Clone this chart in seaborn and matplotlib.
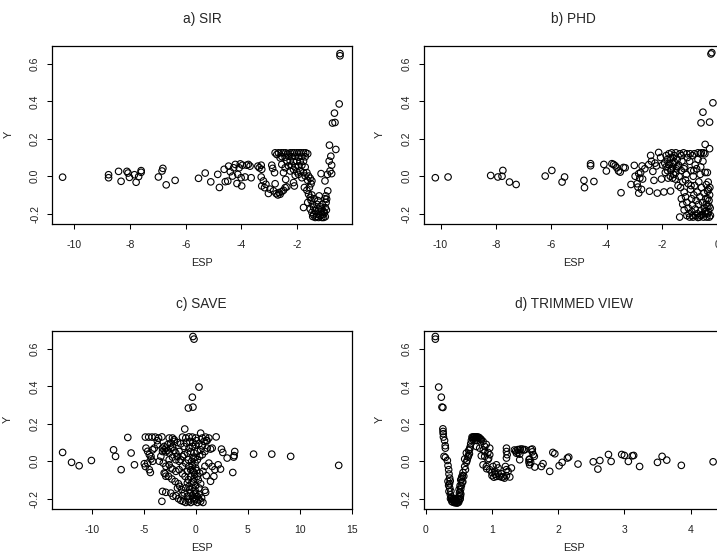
import matplotlib
matplotlib.use("Agg")
import matplotlib.pyplot as plt
import seaborn as sns

# (ESP, Y) pairs
sir_pts = [
    (-10.42, -0.005), (-8.77, 0.008), (-8.77, -0.008), (-8.41, 0.026), (-8.32, -0.027),
    (-8.11, 0.026), (-8.07, 0.017), (-8.02, -0.006), (-7.84, 0.008), (-7.78, -0.032),
    (-7.69, -0.002), (-7.60, 0.030), (-7.60, 0.021), (-6.98, -0.004), (-6.85, 0.028),
    (-6.82, 0.042), (-6.70, -0.046), (-6.38, -0.022), (-5.54, -0.011), (-5.30, 0.017),
    (-5.10, -0.030), (-4.85, 0.010), (-4.79, -0.060), (-4.62, 0.037), (-4.58, -0.029),
    (-4.46, 0.054), (-4.49, -0.026), (-4.40, 0.024), (-4.32, 0.001), (-4.28, 0.045),
    (-4.22, 0.063), (-4.16, -0.039), (-4.13, 0.010), (-4.08, 0.045), (-4.04, 0.066),
    (-4.01, -0.008), (-3.99, -0.052), (-3.96, 0.059), (-3.87, -0.004), (-3.81, 0.059),
    (-3.75, 0.063), (-3.69, 0.054), (-3.65, -0.008), (-3.41, 0.054), (-3.36, 0.045),
    (-3.29, 0.059), (-3.27, 0.037), (-3.29, -0.004), (-3.21, -0.025), (-3.27, -0.052),
    (-3.17, -0.061), (-3.12, -0.043), (-3.03, -0.092), (-2.97, -0.069), (-2.91, 0.059),
    (-2.88, 0.042), (-2.81, 0.019), (-2.85, -0.078), (-2.79, -0.040), (-2.75, -0.093),
    (-2.69, -0.100), (-2.65, -0.087), (-2.61, -0.096), (-2.55, -0.082), (-2.49, -0.075),
    (-2.43, -0.061), (-2.37, -0.057), (-2.41, -0.017), (-2.49, 0.019), (-2.43, 0.045),
    (-2.55, 0.063), (-2.61, 0.098), (-2.73, 0.116),
    (-2.79, 0.125), (-2.67, 0.125), (-2.57, 0.125), (-2.49, 0.125), (-2.41, 0.125),
    (-2.33, 0.120), (-2.25, 0.125), (-2.17, 0.125), (-2.10, 0.125), (-2.01, 0.125),
    (-1.93, 0.125), (-1.86, 0.125), (-1.77, 0.125), (-1.69, 0.125), (-1.62, 0.120),
    (-2.55, 0.105), (-2.43, 0.102), (-2.31, 0.107), (-2.19, 0.104), (-2.07, 0.107),
    (-1.95, 0.102), (-1.83, 0.106), (-1.71, 0.104), (-2.37, 0.081), (-2.25, 0.082),
    (-2.13, 0.078), (-2.01, 0.081), (-1.89, 0.078), (-1.77, 0.081), (-2.31, 0.055),
    (-2.19, 0.059), (-2.07, 0.049), (-1.95, 0.055), (-1.83, 0.059), (-1.71, 0.049),
    (-2.25, 0.028), (-2.13, 0.036), (-2.01, 0.024), (-1.89, 0.031), (-1.77, 0.019),
    (-2.07, 0.005), (-1.95, 0.010), (-1.83, -0.008), (-1.71, 0.001), (-2.13, -0.034),
    (-2.10, -0.052), (-1.65, 0.019), (-1.59, 0.001), (-1.53, -0.011), (-1.47, -0.025),
    (-1.62, -0.022), (-1.74, -0.060), (-1.65, -0.075), (-1.59, -0.096), (-1.53, -0.113),
    (-1.47, -0.100), (-1.50, -0.128), (-1.45, -0.149), (-1.77, -0.167), (-1.53, -0.175),
    (-1.47, -0.193), (-1.41, -0.206), (-1.35, -0.184), (-1.29, -0.202), (-1.23, -0.220),
    (-1.35, -0.220), (-1.17, -0.211), (-1.11, -0.220), (-1.05, -0.220), (-0.99, -0.216),
    (-1.23, -0.175), (-1.17, -0.163), (-1.11, -0.175), (-1.05, -0.188), (-0.99, -0.167),
    (-0.96, -0.140), (-0.94, -0.122), (-0.97, -0.105), (-0.90, -0.078), (-1.21, -0.105),
    (-1.41, -0.165), (-1.29, -0.150), (-1.17, -0.190), (-1.08, -0.205), (-1.02, -0.195),
    (-1.30, -0.215), (-1.44, -0.215), (-1.25, -0.130), (-1.38, -0.120), (-1.10, -0.150),
    (-1.00, -0.120), (-0.95, -0.180), (-1.62, -0.140), (-1.56, -0.060), (-1.50, -0.040),
    (-1.14, 0.014), (-1.00, -0.025), (-0.91, 0.010), (-0.82, 0.028), (-0.76, 0.014),
    (-0.76, 0.059), (-0.85, 0.081), (-0.79, 0.107), (-0.84, 0.166), (-0.61, 0.143),
    (-0.73, 0.284), (-0.64, 0.287), (-0.66, 0.337), (-0.49, 0.386), (-0.46, 0.655),
    (-0.46, 0.643),
]

phd_pts = [
    (-10.19, -0.008), (-9.73, -0.004), (-8.19, 0.004), (-7.93, -0.004), (-7.78, 0.000),
    (-7.75, 0.031), (-7.51, -0.031), (-7.27, -0.044), (-6.22, 0.001), (-5.98, 0.031),
    (-5.61, -0.031), (-5.52, -0.004), (-4.82, -0.022), (-4.80, -0.061), (-4.58, 0.067),
    (-4.58, 0.056), (-4.46, -0.028), (-4.10, 0.063), (-4.01, 0.028), (-3.81, 0.067),
    (-3.75, 0.063), (-3.69, 0.056), (-3.63, 0.045), (-3.57, 0.028), (-3.51, 0.022),
    (-3.39, 0.047), (-3.33, 0.045), (-3.48, -0.088), (-3.12, -0.044), (-3.00, 0.058),
    (-2.97, 0.000), (-2.90, -0.040), (-2.87, -0.058), (-2.84, -0.090), (-2.84, 0.014),
    (-2.80, -0.010), (-2.77, 0.020), (-2.74, -0.070), (-2.72, 0.055), (-2.70, -0.015),
    (-2.62, 0.040), (-2.48, 0.062), (-2.45, -0.080), (-2.41, 0.111), (-2.38, 0.080),
    (-2.33, 0.026), (-2.29, -0.022), (-2.25, 0.070), (-2.20, 0.055), (-2.17, -0.090),
    (-2.12, 0.127), (-2.05, 0.100), (-2.02, -0.015), (-1.98, 0.060), (-1.93, -0.084),
    (-1.88, 0.020), (-1.85, 0.110), (-1.80, 0.090), (-1.78, -0.010), (-1.75, 0.120),
    (-1.72, 0.070), (-1.69, -0.079), (-1.68, 0.030), (-1.65, 0.125), (-1.62, 0.050),
    (-1.60, 0.100), (-1.58, 0.010), (-1.55, 0.075), (-1.52, -0.015), (-1.50, 0.125),
    (-1.48, 0.040), (-1.45, 0.090), (-1.42, -0.050), (-1.40, 0.060), (-1.38, 0.000),
    (-1.36, -0.218), (-1.35, 0.120), (-1.33, -0.060), (-1.30, 0.030), (-1.28, 0.080),
    (-1.25, -0.030), (-1.22, 0.125), (-1.20, -0.085), (-1.18, 0.050), (-1.15, -0.110),
    (-1.12, 0.010), (-1.10, -0.140), (-1.08, 0.100), (-1.05, -0.170), (-1.05, -0.040),
    (-1.02, -0.200), (-1.00, -0.218), (-0.98, 0.120), (-0.97, -0.070), (-0.95, 0.030),
    (-0.93, -0.120), (-0.92, -0.190), (-0.90, -0.155), (-0.88, -0.218), (-0.87, 0.000),
    (-0.85, -0.100), (-0.83, 0.120), (-0.82, -0.050), (-0.80, -0.175), (-0.78, -0.210),
    (-0.77, -0.130), (-0.75, 0.040), (-0.73, -0.085), (-0.72, -0.200), (-0.70, 0.125),
    (-0.68, -0.150), (-0.67, -0.030), (-0.65, -0.218), (-0.63, -0.110), (-0.62, 0.010),
    (-0.60, -0.185), (-0.58, 0.125), (-0.57, -0.060), (-0.55, -0.205), (-0.53, -0.140),
    (-0.52, 0.080), (-0.50, -0.218), (-0.48, -0.090), (-0.47, -0.170), (-0.45, 0.120),
    (-0.44, 0.020), (-0.43, -0.200), (-0.42, -0.120), (-0.40, -0.045), (-0.38, -0.218),
    (-0.37, -0.160), (-0.36, 0.020), (-0.35, -0.080), (-0.33, -0.031), (-0.32, -0.190),
    (-0.30, -0.130), (-0.29, -0.218), (-0.28, -0.100), (-0.27, -0.060), (-0.26, -0.170),
    (-0.25, -0.210), (-1.90, 0.070), (-1.85, 0.050), (-1.80, 0.030), (-1.75, 0.060),
    (-1.70, 0.100), (-1.65, 0.040), (-1.60, 0.070), (-1.55, 0.110), (-1.50, 0.020),
    (-1.45, 0.050), (-1.70, 0.000), (-1.62, -0.010), (-1.30, 0.110), (-1.10, 0.120),
    (-0.90, 0.110), (-0.62, 0.120), (-0.50, 0.125), (-1.00, 0.080), (-0.80, 0.060),
    (-0.70, 0.090), (-0.60, 0.050), (-1.20, 0.040), (-1.15, -0.020), (-0.95, -0.050),
    (-0.85, 0.030), (-0.35, -0.120), (-0.40, -0.150), (-0.45, -0.190), (-0.90, -0.210),
    (-0.70, -0.220), (-0.60, -0.210), (-0.35, -0.200), (-1.10, -0.210), (-1.20, -0.180),
    (-1.25, -0.150), (-1.30, -0.120), (-0.30, -0.160), (-0.32, -0.070),
    (-0.23, 0.653), (-0.20, 0.660), (-0.16, 0.392), (-0.52, 0.342), (-0.59, 0.285),
    (-0.28, 0.289), (-0.44, 0.170), (-0.28, 0.147),
]

save_pts = [
    (-12.80, 0.047), (-11.94, -0.006), (-11.21, -0.024), (-10.03, 0.004), (-7.90, 0.061),
    (-7.71, 0.026), (-7.17, -0.045), (-6.53, 0.127), (-6.21, 0.044), (-5.89, -0.019),
    (3.03, 0.017), (3.66, 0.022), (3.76, 0.052), (3.70, 0.030), (3.57, -0.060),
    (5.57, 0.038), (7.32, 0.038), (9.14, 0.026), (13.76, -0.022),
    (-0.26, 0.666), (-0.16, 0.652), (0.32, 0.396), (-0.32, 0.342), (-0.70, 0.284),
    (-0.26, 0.289), (-1.05, 0.172),
    (-4.84, 0.129), (-4.52, 0.129), (-4.20, 0.129), (-3.89, 0.129), (-3.57, 0.124),
    (-3.25, 0.130), (-3.70, 0.110), (-2.55, 0.124), (-2.23, 0.124), (-2.07, 0.115),
    (-1.27, 0.129), (-0.95, 0.124), (-0.64, 0.130), (-0.32, 0.129), (0.00, 0.124),
    (0.48, 0.150), (0.64, 0.124), (0.95, 0.129), (1.27, 0.124), (1.97, 0.130),
    (1.10, 0.110),
    (-4.94, -0.013), (-4.84, -0.028), (-4.46, -0.045), (-4.36, -0.060), (-4.78, 0.070),
    (-4.62, 0.053), (-4.46, 0.035), (-4.30, 0.026), (-4.14, 0.061), (-3.98, 0.070),
    (-4.30, 0.012), (-4.14, 0.000), (-4.62, -0.010),
    (-3.50, 0.000), (-3.20, 0.070), (-3.03, 0.060), (-2.87, 0.050), (-3.03, -0.063),
    (-2.87, -0.080),
    (-3.19, 0.052), (-3.03, 0.079), (-2.87, 0.070), (-2.71, 0.058), (-2.55, 0.044),
    (-2.39, 0.070), (-2.23, 0.076), (-2.07, 0.058), (-1.91, 0.044), (-1.75, 0.026),
    (-1.59, 0.052), (-1.43, 0.008), (-1.27, 0.026), (-1.11, 0.079), (-2.87, -0.027),
    (-2.55, -0.019), (-2.39, -0.036), (-2.93, -0.067), (-2.61, -0.081), (-2.29, -0.095),
    (-1.98, -0.108), (-1.66, -0.120), (-1.75, -0.143), (-1.53, -0.134), (-1.34, -0.152),
    (-3.19, -0.161), (-2.87, -0.166), (-3.25, -0.214), (-2.39, -0.170), (-2.17, -0.187),
    (-1.91, -0.184), (-1.66, -0.200), (-1.43, -0.209), (-1.21, -0.214), (-0.96, -0.220),
    (-0.70, -0.214), (-0.48, -0.220), (-0.16, -0.214), (0.16, -0.220), (0.48, -0.214),
    (0.70, -0.220), (0.57, -0.196), (0.96, -0.166), (0.32, -0.178), (0.00, -0.170),
    (-0.48, -0.170), (-0.80, -0.187), (-0.26, -0.196), (-1.11, -0.170), (-0.96, -0.143),
    (-0.64, -0.134), (-0.32, -0.143), (0.00, -0.130), (0.32, -0.143), (0.48, -0.120),
    (-0.38, -0.116), (-0.70, -0.098), (-1.02, -0.081), (-0.48, -0.081), (-0.16, -0.095),
    (0.16, -0.081), (0.38, -0.063), (-0.80, -0.054), (-0.48, -0.045), (-0.16, -0.060),
    (0.00, -0.036), (-0.32, -0.024), (-0.64, -0.027), (-0.96, -0.010), (-0.70, 0.008),
    (-0.38, 0.000), (-0.06, -0.010), (0.16, 0.008), (0.38, 0.026), (0.64, 0.035),
    (0.89, 0.052), (1.11, 0.070), (0.48, 0.061), (0.16, 0.052), (-0.16, 0.044),
    (-0.48, 0.052), (-0.80, 0.044), (-1.11, 0.035), (-0.64, 0.070), (-0.32, 0.079),
    (0.00, 0.088), (0.32, 0.093), (0.64, 0.083), (-0.89, 0.097), (-0.57, 0.106),
    (-0.26, 0.100), (0.06, 0.110), (0.80, 0.106), (1.02, 0.111),
    (0.89, -0.027), (0.70, -0.054), (1.02, -0.077), (1.43, -0.107), (1.75, -0.081),
    (1.27, -0.010), (1.59, -0.028), (1.85, -0.045), (2.16, -0.019), (2.39, -0.042),
    (2.48, 0.065), (2.61, 0.047), (1.43, 0.065), (1.59, 0.070), (0.89, -0.155),
    (-0.06, -0.155), (-0.57, -0.152), (-1.27, -0.184), (-0.32, -0.184), (0.16, -0.188),
    (-0.10, -0.205), (0.32, -0.205), (-0.64, -0.202), (-0.80, -0.116), (-1.27, -0.067),
    (-1.59, -0.045), (-1.91, -0.054), (-2.23, -0.042), (-1.27, -0.027), (-1.59, 0.000),
    (-1.91, 0.008), (-2.23, 0.022), (-2.55, 0.008), (-1.43, 0.093), (-1.75, 0.100),
    (-2.07, 0.106), (-2.39, 0.097), (-2.71, 0.088), (-3.12, -0.010), (-3.35, 0.026),
    (-3.66, 0.088), (-0.20, -0.110), (-0.10, -0.070), (-0.30, -0.050), (-0.05, 0.020),
    (-0.25, 0.015), (0.10, -0.050), (-0.15, -0.175), (0.05, -0.200), (0.25, -0.100),
]

trim_pts = [
    (0.146, 0.666), (0.146, 0.652), (0.196, 0.396), (0.236, 0.342), (0.246, 0.289),
    (0.260, 0.287), (0.260, 0.173), (0.262, 0.159), (0.265, 0.147), (0.268, 0.129),
    (0.285, 0.111), (0.295, 0.083), (0.297, 0.070), (0.277, 0.026), (0.297, 0.020),
    (0.327, 0.004), (0.337, -0.023), (0.347, -0.045), (0.352, -0.068), (0.362, -0.090),
    (0.337, -0.107), (0.347, -0.129), (0.363, -0.143), (0.352, -0.161), (0.373, -0.179),
    (0.388, -0.191), (0.403, -0.205), (0.428, -0.214), (0.453, -0.219), (0.478, -0.223),
    (0.498, -0.219), (0.514, -0.205), (0.524, -0.187), (0.519, -0.166), (0.529, -0.148),
    (0.539, -0.130), (0.549, -0.113), (0.539, -0.095), (0.554, -0.077), (0.564, -0.060),
    (0.360, -0.120), (0.380, -0.160), (0.390, -0.200), (0.410, -0.218), (0.420, -0.200),
    (0.440, -0.222), (0.460, -0.210), (0.470, -0.222), (0.490, -0.205), (0.500, -0.190),
    (0.510, -0.170), (0.505, -0.150), (0.520, -0.130), (0.530, -0.100), (0.545, -0.085),
    (0.370, -0.105), (0.375, -0.200), (0.395, -0.215), (0.435, -0.205), (0.455, -0.200),
    (0.485, -0.212), (0.520, -0.200), (0.530, -0.175), (0.560, -0.110), (0.575, -0.080),
    (0.589, -0.028), (0.614, -0.006), (0.589, 0.012), (0.639, 0.022), (0.614, 0.044),
    (0.650, 0.058), (0.660, 0.040), (0.670, 0.075), (0.680, 0.093), (0.690, 0.111),
    (0.700, 0.129), (0.600, -0.045), (0.625, 0.005), (0.645, 0.030), (0.665, 0.065),
    (0.710, 0.125), (0.720, 0.130), (0.730, 0.127), (0.740, 0.130), (0.750, 0.125),
    (0.760, 0.130), (0.770, 0.127), (0.780, 0.130), (0.790, 0.125), (0.800, 0.128),
    (0.810, 0.125), (0.820, 0.120), (0.830, 0.118), (0.840, 0.115), (0.715, 0.115),
    (0.745, 0.112), (0.775, 0.110), (0.815, 0.070), (0.765, 0.079),
    (0.866, 0.106), (0.891, 0.079), (0.870, 0.060), (0.840, 0.029), (0.891, 0.026),
    (0.967, 0.035), (0.940, 0.047), (0.967, 0.070), (0.940, 0.008), (0.866, -0.019),
    (0.916, -0.028), (0.967, -0.045), (1.017, -0.028), (1.042, -0.054), (1.002, -0.077),
    (1.068, -0.081), (1.093, -0.063), (1.118, -0.081), (1.143, -0.067), (1.168, -0.084),
    (1.219, -0.077), (1.244, -0.054), (1.270, -0.084), (1.219, -0.045), (1.204, -0.028),
    (1.294, -0.036), (1.068, -0.019), (1.093, -0.036), (0.920, -0.040), (1.000, -0.060),
    (1.030, -0.085), (1.050, -0.070), (1.150, -0.085), (1.190, -0.090), (0.895, 0.050),
    (0.915, 0.090), (0.950, 0.015),
    (1.220, 0.070), (1.220, 0.052), (1.230, 0.035), (1.220, 0.017), (1.340, 0.060),
    (1.360, 0.055), (1.390, 0.062), (1.410, 0.060), (1.430, 0.065), (1.460, 0.065),
    (1.480, 0.060), (1.500, 0.062), (1.395, 0.045), (1.420, 0.038), (1.370, 0.043),
    (1.590, 0.062), (1.610, 0.050), (1.625, 0.035), (1.420, 0.008), (1.570, 0.012),
    (1.585, -0.006), (1.647, -0.031), (1.747, -0.028), (1.772, -0.013), (1.873, -0.054),
    (1.920, 0.047), (1.950, 0.040), (1.560, 0.008), (1.560, -0.006), (1.570, -0.019),
    (1.640, 0.026), (1.610, 0.065),
    (2.015, -0.024), (2.060, -0.006), (2.140, 0.017), (2.160, 0.022), (2.300, -0.015),
    (2.530, -0.003), (2.600, -0.042), (2.630, 0.004), (2.760, 0.036), (2.800, -0.001),
    (2.960, 0.036), (3.000, 0.031), (3.060, -0.001), (3.120, 0.029), (3.140, 0.031),
    (3.230, -0.028), (3.500, -0.006), (3.570, 0.026), (3.640, 0.006), (3.860, -0.022),
    (4.340, -0.003),
]

titles = ["a) SIR", "b) PHD", "c) SAVE", "d) TRIMMED VIEW"]
x_ticks = [
    [-10, -8, -6, -4, -2],
    [-10, -8, -6, -4, -2, 0],
    [-10, -5, 0, 5, 10, 15],
    [0, 1, 2, 3, 4],
]
y_ticks = [-0.2, 0.0, 0.2, 0.4, 0.6]

sns.set_style("ticks")
plt.rcParams["font.family"] = ["Liberation Sans", "DejaVu Sans"]
plt.rcParams["axes.unicode_minus"] = False

W, H = 717, 559
fig = plt.figure(figsize=(W / 100, H / 100), dpi=100)

# axes boxes in pixels: left, top (the right column runs past the image edge)
boxes = [(52, 45.7), (423.7, 45.7), (51.7, 330.7), (423.7, 330.7)]
ax_w, ax_h = 300, 178.3
xlims = [(-10.8, -0.03), (-10.61, 0.23), (-13.85, 15.01), (-0.03, 4.5)]

for pts, title, xt, (left, top), xl in zip(
        [sir_pts, phd_pts, save_pts, trim_pts], titles, x_ticks, boxes, xlims):
    ax = fig.add_axes([left / W, (H - top - ax_h) / H, ax_w / W, ax_h / H])
    esp = [p[0] for p in pts]
    yv = [p[1] for p in pts]
    sns.scatterplot(x=esp, y=yv, ax=ax, marker="o", s=22, color="black",
                    facecolor="none", edgecolor="black", linewidth=0.8)
    ax.set_xlim(*xl)
    ax.set_ylim(-0.255, 0.697)
    ax.set_xticks(xt)
    ax.set_yticks(y_ticks)
    ax.set_xticklabels([str(t) for t in xt])
    ax.set_yticklabels(["%.1f" % t for t in y_ticks], rotation=90, va="center")
    for sp in ax.spines.values():
        sp.set_visible(True)
        sp.set_color("black")
        sp.set_linewidth(0.9)
    ax.tick_params(axis="both", direction="out", length=3.6, width=0.75,
                   color="black", labelsize=7.5, labelcolor="#222222")
    ax.tick_params(axis="x", pad=8)
    ax.tick_params(axis="y", pad=5)
    ax.set_xlabel("ESP", fontsize=7.8, labelpad=6, color="#222222")
    ax.set_ylabel("Y", fontsize=7.8, labelpad=12, color="#222222")
    ax.set_title(title, fontsize=9.8, pad=16)

fig.savefig("out.png", dpi=100)
